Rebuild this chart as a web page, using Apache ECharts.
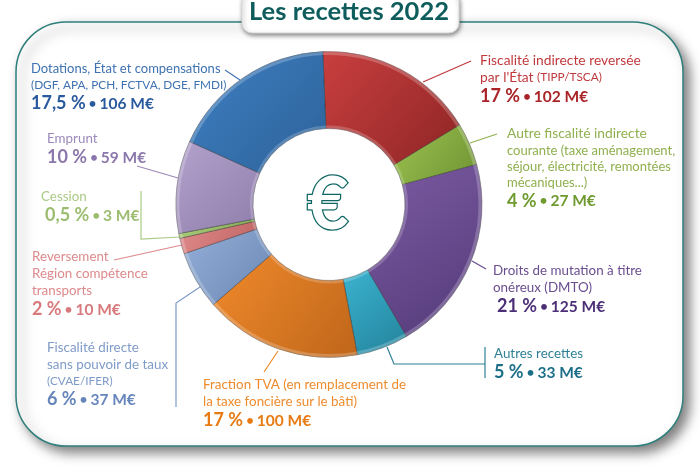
<!DOCTYPE html>
<html>
<head>
<meta charset="utf-8">
<title>Les recettes 2022</title>
<script src="https://cdn.jsdelivr.net/npm/echarts@6/dist/echarts.min.js"></script>
<style>
html,body{margin:0;padding:0;background:#fff;}
#chart{width:700px;height:467px;}
</style>
</head>
<body>
<div id="chart"></div>
<script>
var TITLE = 'Les recettes 2022';
// dans l'ordre du graphique, sens horaire depuis le haut
var categories = ['Fiscalité indirecte reversée', 'Autre fiscalité indirecte', 'Droits de mutation', 'Autres recettes',
    'Fraction TVA', 'Fiscalité directe', 'Reversement Région', 'Cession', 'Emprunt', 'Dotations'];
var amounts = [102, 27, 125, 33, 100, 37, 10, 3, 59, 106];
var percents = ['17 %', '4 %', '21 %', '5 %', '17 %', '6 %', '2 %', '0,5 %', '10 %', '17,5 %'];
var nameLines = [
    [['m', 'Fiscalité indirecte reversée'], ['m', "par l'État "], ['t', '(TIPP/TSCA)']],
    [['m', 'Autre fiscalité indirecte'], ['s', 'courante (taxe aménagement,'], ['s', 'séjour, électricité, remontées'], ['s', 'mécaniques...)']],
    [['n', 'Droits de mutation à titre'], ['n', 'onéreux (DMTO)']],
    [['n', 'Autres recettes']],
    [['n', 'Fraction TVA (en remplacement de'], ['n', 'la taxe foncière sur le bâti)']],
    [['n', 'Fiscalité directe'], ['n', 'sans pouvoir de taux'], ['t', '(CVAE/IFER)']],
    [['n', 'Reversement'], ['n', 'Région compétence'], ['n', 'transports']],
    [['n', 'Cession']],
    [['n', 'Emprunt']],
    [['c', 'Dotations, État et compensations'], ['t', '(DGF, APA, PCH, FCTVA, DGE, FMDI)']]
];

var sliceColors = [
    ['#c93f3f', '#8e2525'], ['#9cc24f', '#6f9334'], ['#7c5ba3', '#533a78'], ['#3bb3d0', '#23829b'], ['#f08a2c', '#bf661a'],
    ['#94afd8', '#6a87b4'], ['#e08a8a', '#bf6465'], ['#a9cc78', '#86a957'], ['#b3a2cc', '#8f7dab'], ['#3f7fc2', '#2c6299']
];
var textColors = ['#c0393d', '#8fb04e', '#6b4e90', '#2f8096', '#ee8b2d', '#7f9bc8', '#dd8a8c', '#abc986', '#9c8ab9', '#3f72b0'];
var strongColors = ['#a92327', '#6f9a2f', '#4b2f77', '#1c6f88', '#e87a12', '#6685bb', '#d8797c', '#9cbd70', '#8b77ab', '#2a5a9e'];
var labelX = [480, 507, 493, 494, 203, 47, 32, 41, 47, 31];
var labelY = [52, 125.5, 262, 345, 376, 339, 248, 188, 130, 60];
var indents = [0, 0, 4, 0, 0, 0, 0, 4, 0, 0];
var leaders = [
    [[423, 82], [471, 61]],
    [[470, 143], [497, 134]],
    [[472, 261], [486, 269]],
    [[387, 347], [394, 364], [485, 364]],
    [[278, 351], [264, 372]],
    [[200, 287], [176, 303], [176, 407]],
    [[182, 245], [114, 260]],
    [[180, 237], [141, 239], [141, 191]],
    [[137, 166], [178, 178]],
    [[225, 70], [240, 80]]
];
var leaderBars = { 3: [[485, 347], [485, 378]] };

function labelText(i) {
    var parts = [];
    var lines = nameLines[i];
    for (var k = 0; k < lines.length; k++) {
        // "par l'État (TIPP/TSCA)" reste sur une ligne
        var seg = '{' + lines[k][0] + '|' + lines[k][1] + '}';
        if (i === 0 && k === 2) parts[parts.length - 1] += seg;
        else parts.push(seg);
    }
    var pad = indents[i] ? '{i|}' : '';
    parts.push(pad + '{p|' + percents[i] + '}{d| • }{a|' + amounts[i] + ' M€}');
    return parts.join('\n');
}

var seriesData = [];
for (var i = 0; i < amounts.length; i++) {
    seriesData.push({
        name: categories[i],
        value: amounts[i],
        itemStyle: {
            color: new echarts.graphic.LinearGradient(0, 0, 1, 1, [
                { offset: 0, color: sliceColors[i][0] },
                { offset: 1, color: sliceColors[i][1] }
            ])
        },
        label: {
            formatter: labelText(i),
            rich: {
                n: { fontSize: 13.4, lineHeight: 17, color: textColors[i], fontFamily: 'Lato' },
                m: { fontSize: 13.8, lineHeight: 17, color: textColors[i], fontFamily: 'Lato' },
                c: { fontSize: 13, lineHeight: 17, color: textColors[i], fontFamily: 'Lato' },
                s: { fontSize: 13, lineHeight: 16, color: textColors[i], fontFamily: 'Lato' },
                t: { fontSize: 11.8, lineHeight: 16, color: textColors[i], fontFamily: 'Lato' },
                p: { fontSize: 18, lineHeight: 21, fontWeight: 'bold', color: strongColors[i], fontFamily: 'Lato' },
                d: { fontSize: 13, lineHeight: 21, fontWeight: 'bold', color: strongColors[i], fontFamily: 'Lato' },
                a: { fontSize: 15.5, lineHeight: 21, fontWeight: 'bold', color: strongColors[i], fontFamily: 'Lato' },
                i: { width: indents[i], lineHeight: 21 }
            }
        }
    });
}

var elements = [
    // cadre
    { type: 'rect', z: 0, shape: { x: 16, y: 22, width: 667, height: 424, r: 50 },
      style: { fill: '#fff', stroke: '#2f7f7c', lineWidth: 1.5, shadowBlur: 12, shadowOffsetX: 6, shadowOffsetY: 6, shadowColor: 'rgba(0,0,0,0.5)' } },
    // bandeau du titre
    { type: 'rect', z: 20, shape: { x: 242, y: -8, width: 217, height: 41, r: 10 },
      style: { fill: '#fff', stroke: '#d8d8d8', lineWidth: 1, shadowBlur: 4, shadowOffsetX: 1, shadowOffsetY: 2, shadowColor: 'rgba(0,0,0,0.45)' } },
    { type: 'text', z: 21, x: 349, y: 12,
      style: { text: TITLE, x: 0, y: 0, align: 'center', verticalAlign: 'middle', fill: '#0e5d5c', font: 'bold 25.5px Lato' } },
    // symbole au centre
    { type: 'text', z: 21, x: 328, y: 206,
      style: { text: '€', align: 'center', verticalAlign: 'middle', fill: '#fff', stroke: '#0f6663', lineWidth: 2.5, font: 'bold 72px Lato' } }
];
for (var j = 0; j < leaders.length; j++) {
    elements.push({ type: 'polyline', z: 1, shape: { points: leaders[j] }, style: { fill: null, stroke: textColors[j], lineWidth: 1.2 } });
    if (leaderBars[j]) {
        elements.push({ type: 'polyline', z: 1, shape: { points: leaderBars[j] }, style: { fill: null, stroke: textColors[j], lineWidth: 1.2 } });
    }
}

// biseau : anneaux fins posés sur les parts, mêmes valeurs
function bevelSeries(radius, color) {
    return {
        type: 'pie', z: 6, silent: true,
        center: [329, 204.5], radius: radius, startAngle: 92.3,
        label: { show: false }, labelLine: { show: false },
        itemStyle: { color: color, borderWidth: 0 },
        data: amounts.slice()
    };
}

var chart = echarts.init(document.getElementById('chart'));
chart.setOption({
    animation: false,
    backgroundColor: '#fff',
    graphic: { elements: elements },
    series: [{
        type: 'pie',
        z: 5,
        center: [329, 204.5],
        radius: [76, 153],
        startAngle: 92.3,
        clockwise: true,
        avoidLabelOverlap: false,
        itemStyle: { borderColor: 'rgba(40,40,40,0.5)', borderWidth: 0.8 },
        label: { show: true, position: 'outside', align: 'left', verticalAlign: 'top' },
        labelLine: { show: false },
        labelLayout: function (params) {
            return { x: labelX[params.dataIndex], y: labelY[params.dataIndex], align: 'left', verticalAlign: 'top' };
        },
        data: seriesData
    },
    bevelSeries([149.5, 153], 'rgba(255,255,255,0.22)'),
    bevelSeries([76, 79], 'rgba(255,255,255,0.2)')]
});
</script>
</body>
</html>
